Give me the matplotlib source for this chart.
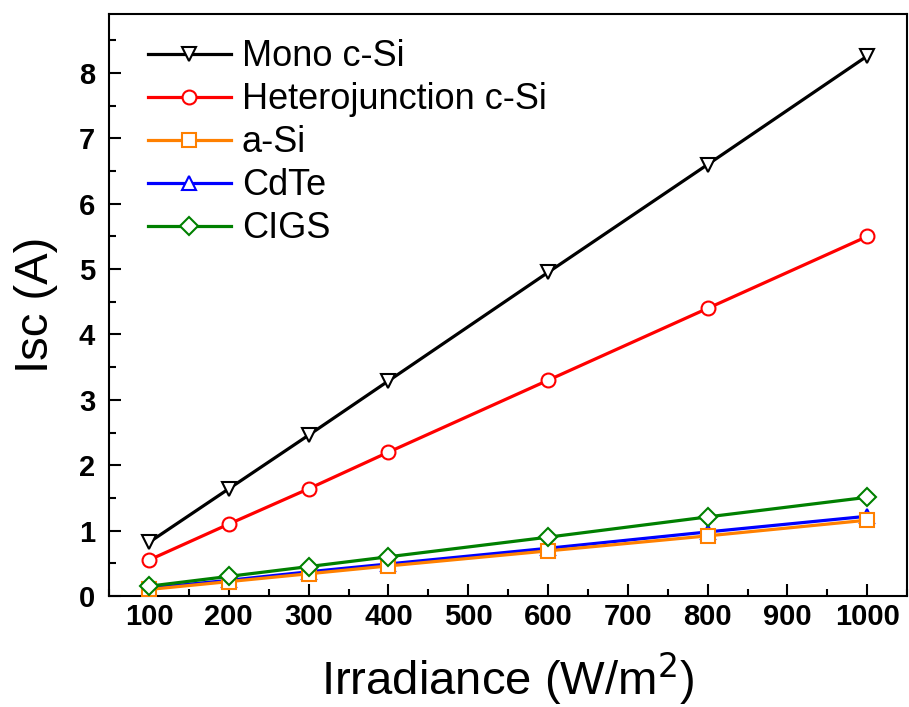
import matplotlib.pyplot as plt
from matplotlib.ticker import MultipleLocator

irradiance = [100, 200, 300, 400, 600, 800, 1000]
mono_csi = [0.82, 1.64, 2.46, 3.29, 4.95, 6.60, 8.26]
hetero_csi = [0.55, 1.10, 1.64, 2.20, 3.30, 4.40, 5.50]
a_si = [0.10, 0.22, 0.34, 0.46, 0.69, 0.92, 1.16]
cdte = [0.12, 0.24, 0.37, 0.49, 0.73, 0.98, 1.22]
cigs = [0.15, 0.30, 0.45, 0.60, 0.90, 1.21, 1.51]

plt.rcParams['font.family'] = 'Liberation Sans'

fig = plt.figure(figsize=(9.09, 7.07), dpi=100)
ax = fig.add_axes([0.120, 0.157, 0.878, 0.823])

style = dict(lw=2.3, ms=10, mew=1.5, mfc='white')
ax.plot(irradiance, mono_csi, color='black', marker='v', label='Mono c-Si', **style)
ax.plot(irradiance, hetero_csi, color='#ff0000', marker='o', label='Heterojunction c-Si', **style)
ax.plot(irradiance, a_si, color='#ff8000', marker='s', label='a-Si', zorder=4, **style)
ax.plot(irradiance, cdte, color='#0000ff', marker='^', label='CdTe', **style)
ax.plot(irradiance, cigs, color='#008000', marker='D', label='CIGS', zorder=5,
        lw=2.3, ms=9, mew=1.5, mfc='white')

ax.set_xlim(50, 1050)
ax.set_ylim(0, 8.9)
ax.xaxis.set_major_locator(MultipleLocator(100))
ax.xaxis.set_minor_locator(MultipleLocator(50))
ax.yaxis.set_major_locator(MultipleLocator(1))
ax.yaxis.set_minor_locator(MultipleLocator(0.5))
ax.tick_params(which='both', direction='in', width=1.5, labelsize=21)
ax.tick_params(axis='x', pad=5)
ax.tick_params(axis='y', pad=10)
ax.tick_params(which='major', length=8.5)
ax.tick_params(which='minor', length=5)
for lab in ax.get_xticklabels() + ax.get_yticklabels():
    lab.set_fontweight('bold')
for sp in ax.spines.values():
    sp.set_linewidth(1.5)

ax.set_xlabel('Irradiance (W/m$^2$)', fontsize=34, labelpad=14)
ax.set_ylabel('Isc (A)', fontsize=34, labelpad=15)

ax.legend(loc='upper left', frameon=False, fontsize=26, handlelength=2.3,
          handletextpad=0.3, labelspacing=0.22, borderaxespad=0.3,
          bbox_to_anchor=(0.017, 1.0))

fig.savefig('out.png', dpi=100)
